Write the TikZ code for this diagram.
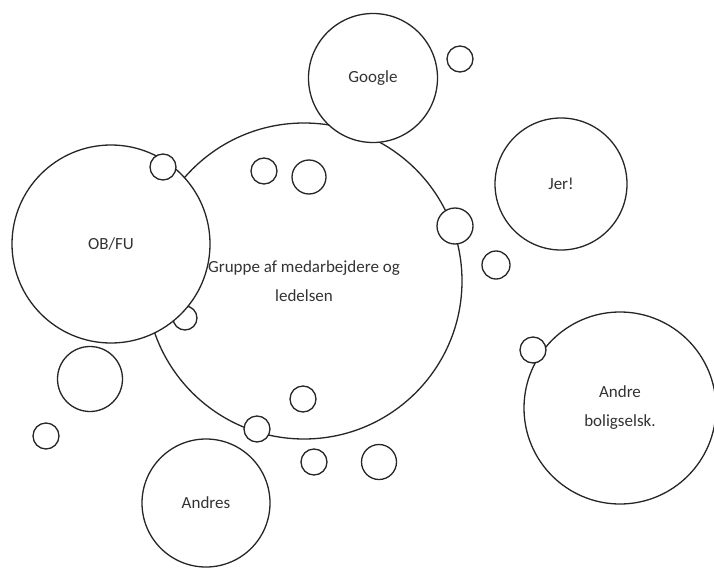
\documentclass[tikz,border=0pt]{standalone}
\usepackage{fontspec}
\setmainfont{Carlito}
\begin{document}
\begin{tikzpicture}[x=1pt,y=-1pt,
  bub/.style={circle,draw=black!85,fill=white,line width=1.3pt,inner sep=0pt,minimum size=#1,
    align=center,font=\fontsize{17}{29}\selectfont,text=black!80}]
\useasboundingbox[fill=white] (0,0) rectangle (714,567);
% big group circle
\node[bub=316pt] (grp) at (304,281) {Gruppe af medarbejdere og\\ledelsen};
% small circles inside big one
\node[bub=26pt] (s1) at (264,171) {};
\node[bub=34pt] (s2) at (309,177) {};
\node[bub=26pt] (s3) at (303,399) {};
\node[bub=24pt] (s4) at (185,318) {};
% OB/FU
\node[bub=198pt] (obfu) at (111,244) {OB/FU};
\node[bub=26pt] (s5) at (163,167) {};
% Google
\node[bub=129pt] (google) at (373,78) {Google};
\node[bub=26pt] (s6) at (460,59) {};
% small circles on big circle edge
\node[bub=36pt] (s7) at (455,226) {};
\node[bub=26pt] (s8) at (257,429) {};
% Jer!
\node[bub=132pt] (jer) at (561,184) {Jer!};
\node[bub=28pt] (s9) at (496,265) {};
% Andre boligselsk.
\node[bub=192pt] (andre) at (620,408) {Andre\\boligselsk.};
\node[bub=26pt] (s10) at (533,350) {};
% lower small circles
\node[bub=26pt] (s11) at (314,462) {};
\node[bub=35pt] (s12) at (379,462) {};
\node[bub=65pt] (s13) at (90,379) {};
\node[bub=26pt] (s14) at (46,436) {};
% Andres
\node[bub=128pt] (andres) at (206,503) {Andres};
\end{tikzpicture}
\end{document}
